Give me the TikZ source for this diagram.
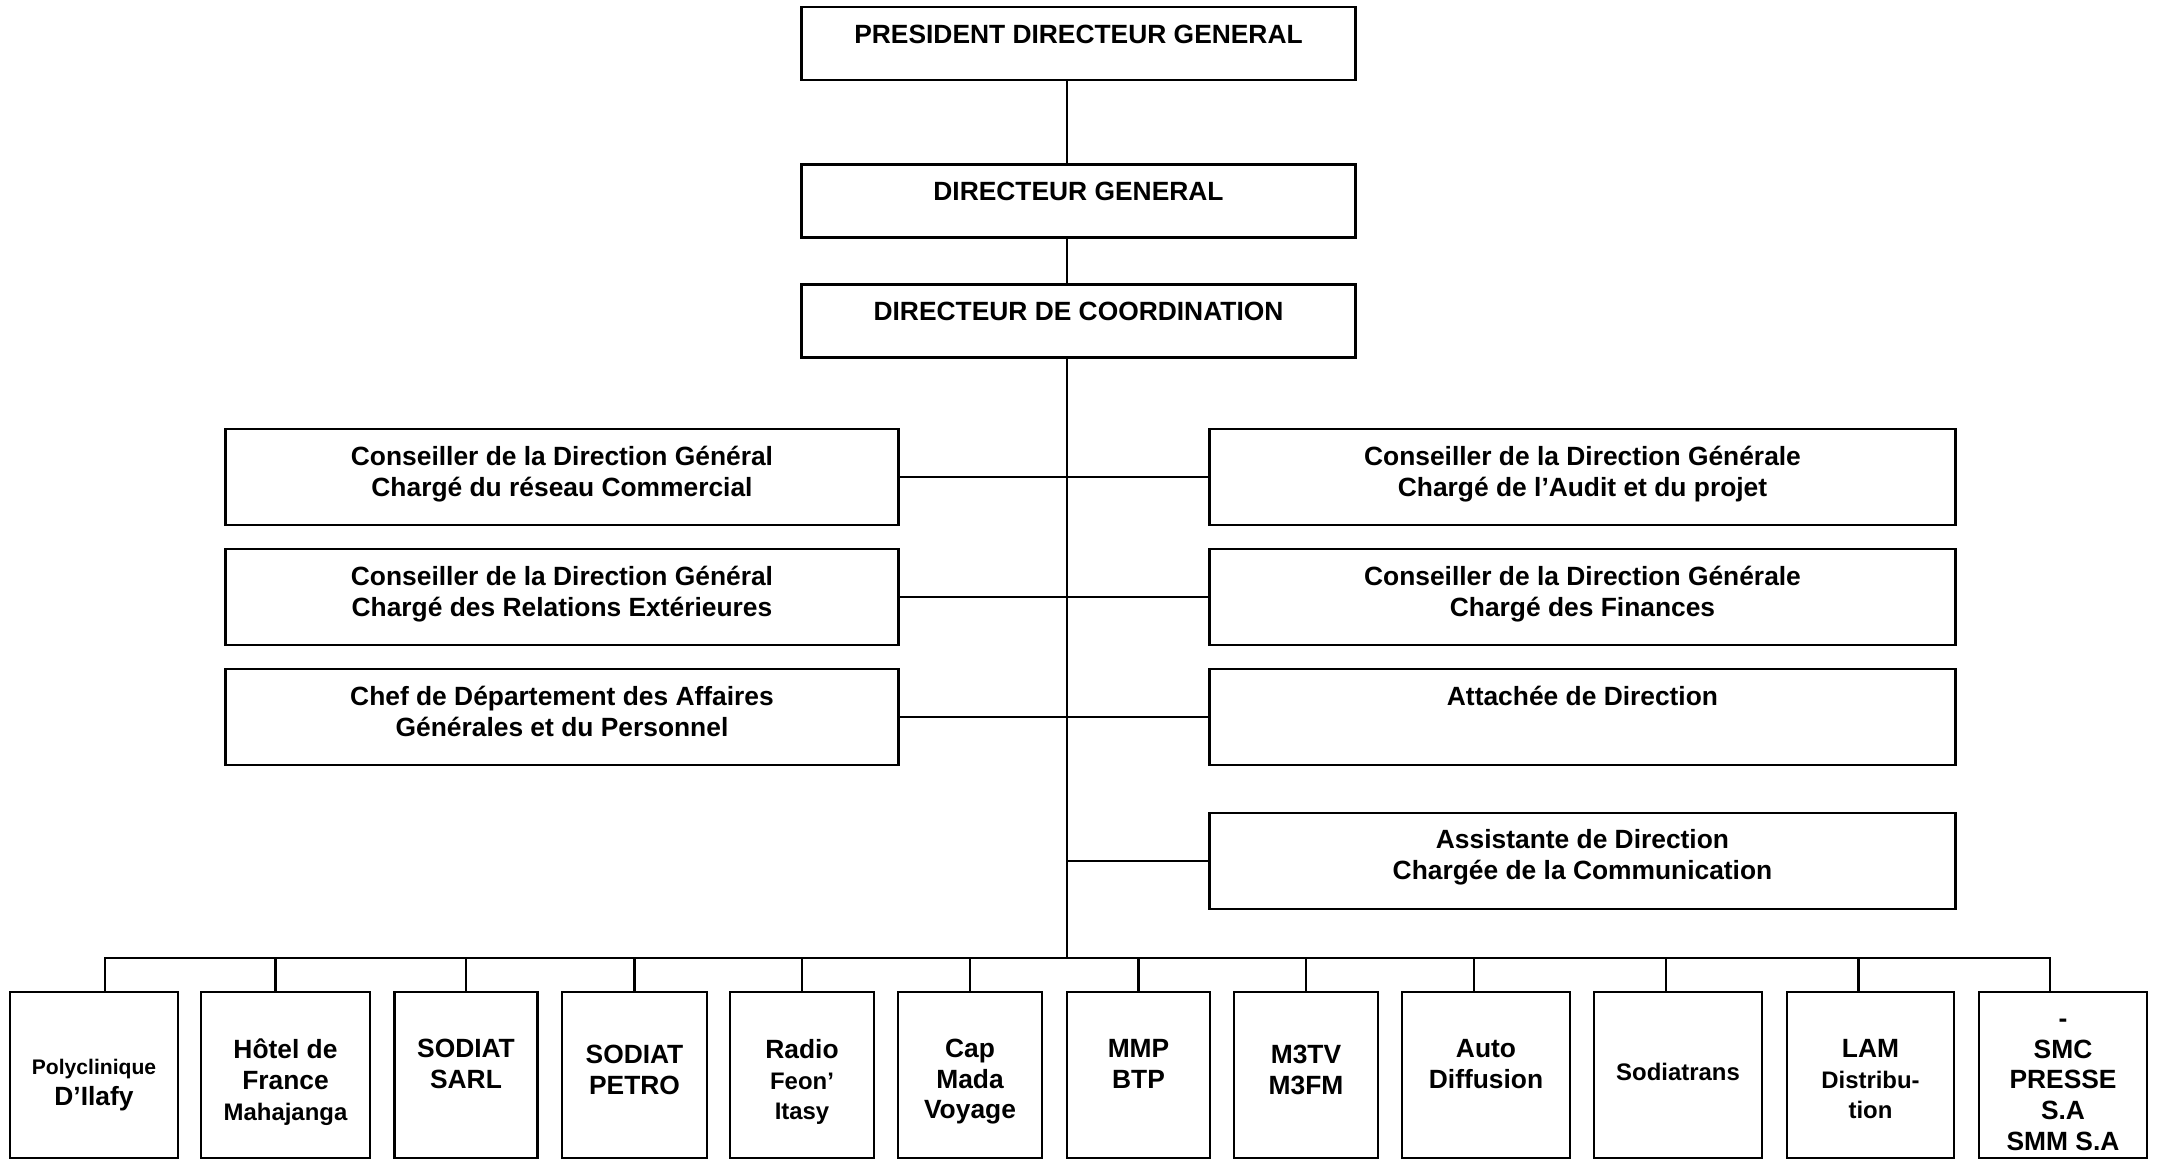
\documentclass[tikz,border=0pt]{standalone}
\usepackage{fontspec}
\setmainfont{Liberation Sans}
\newcommand{\smtxt}{\fontsize{6.8}{8.7}\selectfont}
\newcommand{\tinytxt}{\fontsize{6}{8.7}\selectfont}

\begin{document}
\begin{tikzpicture}[x=0.01cm, y=-0.01cm,
    org box/.style={draw, line width=0.8pt, inner sep=0pt, minimum width=#1},
    headbox/.style={org box=5.53cm, minimum height=0.73cm},
    staffbox/.style={org box=#1, minimum height=0.96cm},
    unitbox/.style={org box=#1, minimum height=1.66cm},
    txt/.style={font=\bfseries\fontsize{7.5}{8.7}\selectfont, align=center, anchor=north, inner sep=0pt},
    link/.style={line width=0.6pt},
]
    \useasboundingbox (0,0) rectangle (2161,1160);

    % Direction
    \node[headbox] (pdg) at (1078.5,43.5) {};
    \node[txt] (pdg-t) at ([yshift=-0.19cm]pdg.north) {PRESIDENT DIRECTEUR GENERAL};
    \node[headbox] (dg) at (1078.5,201) {};
    \node[txt] (dg-t) at ([yshift=-0.185cm]dg.north) {DIRECTEUR GENERAL};
    \node[headbox] (dc) at (1078.5,321) {};
    \node[txt] (dc-t) at ([yshift=-0.18cm]dc.north) {DIRECTEUR DE COORDINATION};
    \coordinate (bus) at (1067,958);

    % Left staff
    \node[staffbox=6.72cm] (cdg1) at (562,477) {};
    \node[txt] (cdg1-t) at ([yshift=-0.18cm]cdg1.north) {Conseiller de la Direction Général\\Chargé du réseau Commercial};
    \node[staffbox=6.72cm] (cdg2) at (562,597) {};
    \node[txt] (cdg2-t) at ([yshift=-0.18cm]cdg2.north) {Conseiller de la Direction Général\\Chargé des Relations Extérieures};
    \node[staffbox=6.72cm] (cdag) at (562,717) {};
    \node[txt] (cdag-t) at ([yshift=-0.18cm]cdag.north) {Chef de Département des Affaires\\Générales et du Personnel};

    % Right staff
    \node[staffbox=7.45cm] (cdg3) at (1582.5,477) {};
    \node[txt] (cdg3-t) at ([yshift=-0.18cm]cdg3.north) {Conseiller de la Direction Générale\\Chargé de l’Audit et du projet};
    \node[staffbox=7.45cm] (cdg4) at (1582.5,597) {};
    \node[txt] (cdg4-t) at ([yshift=-0.18cm]cdg4.north) {Conseiller de la Direction Générale\\Chargé des Finances};
    \node[staffbox=7.45cm] (att) at (1582.5,717) {};
    \node[txt] (att-t) at ([yshift=-0.18cm]att.north) {Attachée de Direction};
    \node[staffbox=7.45cm] (asst) at (1582.5,861) {};
    \node[txt] (asst-t) at ([yshift=-0.17cm]asst.north) {Assistante de Direction\\Chargée de la Communication};

    % Filiales
    \node[unitbox=1.68cm] (poly) at (94,1075) {};
    \node[txt] (poly-t) at ([yshift=-0.68cm]poly.north) {{\tinytxt Polyclinique}\\D’Ilafy};
    \node[unitbox=1.69cm] (hotel) at (285.5,1075) {};
    \node[txt] (hotel-t) at ([yshift=-0.48cm]hotel.north) {Hôtel de\\France\\{\smtxt Mahajanga}};
    \node[unitbox=1.43cm] (sarl) at (466,1075) {};
    \node[txt] (sarl-t) at ([yshift=-0.48cm]sarl.north) {SODIAT\\SARL};
    \node[unitbox=1.45cm] (petro) at (634.5,1075) {};
    \node[txt] (petro-t) at ([yshift=-0.54cm]petro.north) {SODIAT\\PETRO};
    \node[unitbox=1.44cm] (radio) at (802,1075) {};
    \node[txt] (radio-t) at ([yshift=-0.48cm]radio.north) {Radio\\{\smtxt Feon’}\\{\smtxt Itasy}};
    \node[unitbox=1.44cm] (capmada) at (970,1075) {};
    \node[txt] (capmada-t) at ([yshift=-0.48cm]capmada.north) {Cap\\Mada\\Voyage};
    \node[unitbox=1.43cm] (mmp) at (1138.5,1075) {};
    \node[txt] (mmp-t) at ([yshift=-0.48cm]mmp.north) {MMP\\BTP};
    \node[unitbox=1.44cm] (m3) at (1306,1075) {};
    \node[txt] (m3-t) at ([yshift=-0.54cm]m3.north) {M3TV\\M3FM};
    \node[unitbox=1.68cm] (auto) at (1486,1075) {};
    \node[txt] (auto-t) at ([yshift=-0.48cm]auto.north) {Auto\\Diffusion};
    \node[unitbox=1.68cm] (sodiatrans) at (1678,1075) {};
    \node[txt] (sodiatrans-t) at ([yshift=-0.72cm]sodiatrans.north) {\smtxt Sodiatrans};
    \node[unitbox=1.67cm] (lam) at (1870.5,1075) {};
    \node[txt] (lam-t) at ([yshift=-0.48cm]lam.north) {LAM\\{\smtxt Distribu-}\\{\smtxt tion}};
    \node[unitbox=1.68cm] (smc) at (2063,1075) {};
    \node[txt] (smc-t) at ([yshift=-0.18cm]smc.north) {\vphantom{S}-\\SMC\\PRESSE\\S.A\\SMM S.A};

    % Links
    \draw[link] (pdg.south -| bus) -- (dg.north -| bus);
    \draw[link] (dg.south -| bus) -- (dc.north -| bus);
    \draw[link] (dc.south -| bus) -- (bus);
    \draw[link] (cdg1.east) -- (cdg3.west);
    \draw[link] (cdg2.east) -- (cdg4.west);
    \draw[link] (cdag.east) -- (att.west);
    \draw[link] (asst.west) -- (asst.west -| bus);
    \draw[link] ([xshift=0.11cm]poly.north) |- (bus);
    \draw[link] ([xshift=-0.10cm]hotel.north) |- (bus);
    \draw[link] (sarl.north) |- (bus);
    \draw[link] (petro.north) |- (bus);
    \draw[link] (radio.north) |- (bus);
    \draw[link] (capmada.north) |- (bus);
    \draw[link] (mmp.north) |- (bus);
    \draw[link] (m3.north) |- (bus);
    \draw[link] ([xshift=-0.12cm]auto.north) |- (bus);
    \draw[link] ([xshift=-0.12cm]sodiatrans.north) |- (bus);
    \draw[link] ([xshift=-0.12cm]lam.north) |- (bus);
    \draw[link] ([xshift=-0.13cm]smc.north) |- (bus);
\end{tikzpicture}
\end{document}
